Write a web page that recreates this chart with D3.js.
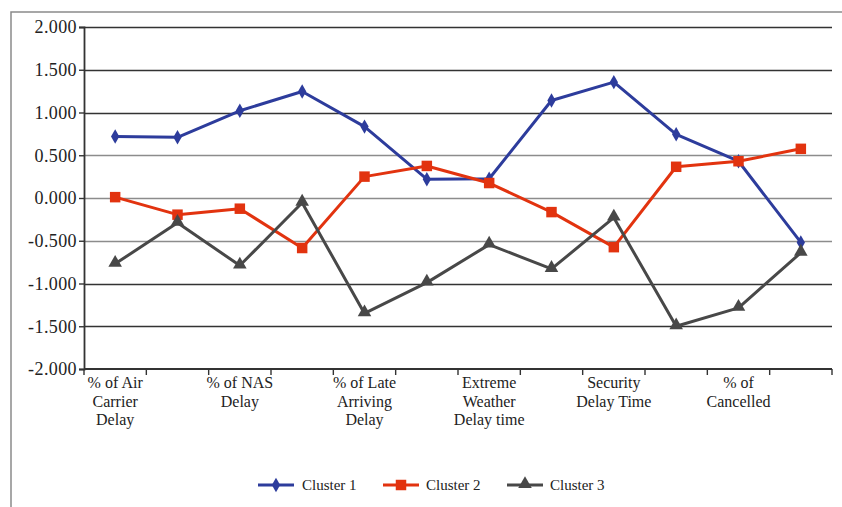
<!DOCTYPE html>
<html>
<head>
<meta charset="utf-8">
<script src="https://cdn.jsdelivr.net/npm/d3@7/dist/d3.min.js"></script>
<style>
  html, body { margin: 0; padding: 0; background: #fff; }
  svg { display: block; }
  text { font-family: "Liberation Serif", "Times New Roman", serif; fill: #222; }
</style>
</head>
<body>
<svg id="chart" width="842" height="507"></svg>
<script>
// Category axis: twelve positions, every other one carries a label
const categoryCount = 12;
const tickLabels = [
  ["% of Air", "Carrier", "Delay"],
  ["% of NAS", "Delay"],
  ["% of Late", "Arriving", "Delay"],
  ["Extreme", "Weather", "Delay time"],
  ["Security", "Delay Time"],
  ["% of", "Cancelled"]
];

// Series values (standardised cluster centres)
const seriesNames = ["Cluster 1", "Cluster 2", "Cluster 3"];
const cluster1 = [0.72, 0.71, 1.02, 1.245, 0.835, 0.22, 0.225, 1.14, 1.355, 0.745, 0.43, -0.52];
const cluster2 = [0.01, -0.195, -0.125, -0.585, 0.25, 0.375, 0.175, -0.165, -0.575, 0.365, 0.43, 0.575];
const cluster3 = [-0.77, -0.29, -0.79, -0.055, -1.35, -0.99, -0.545, -0.83, -0.23, -1.5, -1.285, -0.64];

// Y axis ticks
const yTicks = [2, 1.5, 1, 0.5, 0, -0.5, -1, -1.5, -2];
const darkGrid = [2, 1.5, 1, -1, -1.5];

const colors = ["#2D3C9C", "#E2330F", "#484848"];
const symbols = [d3.symbolDiamond, d3.symbolSquare, d3.symbolTriangle];
const symbolSizes = [60, 110, 80];

const svg = d3.select("#chart");
const plot = { left: 84, right: 832, top: 27, bottom: 369 };

// Outer frame (open on the right and bottom, as the canvas clips it)
svg.append("path")
  .attr("d", `M11,520 L11,12 L850,12`)
  .attr("fill", "none")
  .attr("stroke", "#8a8a8a")
  .attr("stroke-width", 1.5);

const x = d3.scaleBand()
  .domain(d3.range(categoryCount))
  .range([plot.left, plot.right]);

const y = d3.scaleLinear()
  .domain([-2, 2])
  .range([plot.bottom, plot.top]);

// Horizontal gridlines
svg.append("g")
  .selectAll("line")
  .data(yTicks.filter(v => v !== -2))
  .join("line")
  .attr("x1", plot.left)
  .attr("x2", plot.right)
  .attr("y1", d => Math.round(y(d)) + 0.5)
  .attr("y2", d => Math.round(y(d)) + 0.5)
  .attr("stroke", d => darkGrid.includes(d) ? "#333" : "#8c8c8c")
  .attr("stroke-width", d => darkGrid.includes(d) ? 1.6 : 1.3);

// Y axis (plain hyphen for negatives)
const fmt = d3.format(".3f");
const yAxis = svg.append("g")
  .attr("transform", `translate(${plot.left},0)`)
  .call(d3.axisLeft(y).tickValues(yTicks).tickFormat(d => fmt(d).replace("\u2212", "-")).tickSize(5).tickPadding(2));
yAxis.select(".domain").attr("stroke", "#333").attr("stroke-width", 1.8);
yAxis.selectAll(".tick line").attr("stroke", "#333").attr("stroke-width", 1.4);
yAxis.selectAll(".tick text")
  .attr("font-size", 18)
  .attr("letter-spacing", "0.4px")
  .attr("fill", "#222")
  .style("font-family", '"Liberation Serif", serif');

// X axis: ticks at band boundaries, labels under every other band
const xAxisG = svg.append("g").attr("transform", `translate(0,${plot.bottom})`);
xAxisG.append("line")
  .attr("x1", plot.left).attr("x2", plot.right)
  .attr("y1", 0).attr("y2", 0)
  .attr("stroke", "#333").attr("stroke-width", 1.8);
const boundaries = d3.range(categoryCount + 1).map(i => i < categoryCount ? x(i) : x(categoryCount - 1) + x.bandwidth());
xAxisG.selectAll("line.tick")
  .data(boundaries)
  .join("line")
  .attr("class", "tick")
  .attr("x1", d => d).attr("x2", d => d)
  .attr("y1", 0).attr("y2", 6)
  .attr("stroke", "#333").attr("stroke-width", 1.4);

const labelG = svg.append("g");
tickLabels.forEach((lines, k) => {
  const idx = k * 2;
  const t = labelG.append("text")
    .attr("x", x(idx) + x.bandwidth() / 2)
    .attr("y", 388)
    .attr("text-anchor", "middle")
    .attr("font-size", 16);
  lines.forEach((ln, j) => {
    t.append("tspan")
      .attr("x", x(idx) + x.bandwidth() / 2)
      .attr("dy", j === 0 ? 0 : 18.5)
      .text(ln);
  });
});

// Series lines and markers
const seriesData = [cluster1, cluster2, cluster3];
const line = d3.line()
  .x((d, i) => x(i) + x.bandwidth() / 2)
  .y(d => y(d));

seriesData.forEach((vals, s) => {
  const g = svg.append("g");
  g.append("path")
    .datum(vals)
    .attr("d", line)
    .attr("fill", "none")
    .attr("stroke", colors[s])
    .attr("stroke-width", 3)
    .attr("stroke-linejoin", "round");
  g.selectAll("path.marker")
    .data(vals)
    .join("path")
    .attr("class", "marker")
    .attr("d", d3.symbol().type(symbols[s]).size(symbolSizes[s]))
    .attr("transform", (d, i) => `translate(${x(i) + x.bandwidth() / 2},${y(d) - (s === 2 ? 1 : 0)})`)
    .attr("fill", colors[s]);
});

// Legend
const legendItems = [
  { x: 258, tx: 302 },
  { x: 383, tx: 426 },
  { x: 507, tx: 550 }
];
const legendY = 485;
seriesNames.forEach((name, s) => {
  const g = svg.append("g");
  g.append("line")
    .attr("x1", legendItems[s].x).attr("x2", legendItems[s].x + 36)
    .attr("y1", legendY).attr("y2", legendY)
    .attr("stroke", colors[s]).attr("stroke-width", 3);
  g.append("path")
    .attr("d", d3.symbol().type(symbols[s]).size(symbolSizes[s]))
    .attr("transform", `translate(${legendItems[s].x + 18},${legendY - (s === 2 ? 1 : 0)})`)
    .attr("fill", colors[s]);
  g.append("text")
    .attr("x", legendItems[s].tx)
    .attr("y", legendY + 5)
    .attr("font-size", 15)
    .text(name);
});
</script>
</body>
</html>
